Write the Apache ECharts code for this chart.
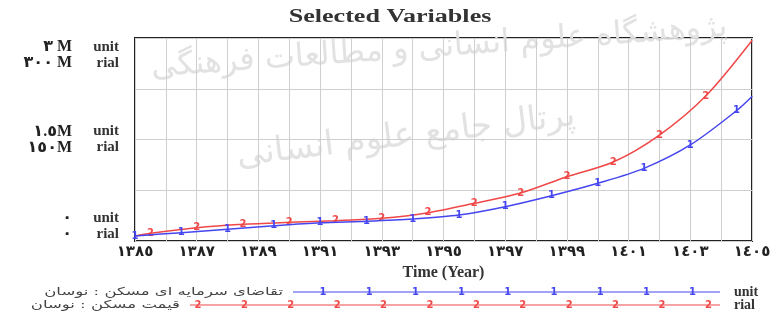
<!DOCTYPE html>
<html>
<head>
<meta charset="utf-8">
<script src="https://cdn.jsdelivr.net/npm/echarts@6/dist/echarts.min.js"></script>
<style>
  html, body { margin: 0; padding: 0; background: #fff; }
  #chart { width: 778px; height: 316px; }
</style>
</head>
<body>
<div id="chart"></div>
<script>
// years on the x axis (labels every 2 years, Persian digits)
const xLabels = ['١٣٨٥', '١٣٨٧', '١٣٨٩', '١٣٩١', '١٣٩٣', '١٣٩٥', '١٣٩٧', '١٣٩٩', '١٤٠١', '١٤٠٣', '١٤٠٥']
// y tick labels (left number + unit word)
const yUnitLabels = ['٠', '١.٥M', '٣ M']
const yRialLabels = ['٠', '١٥٠M', '٣٠٠ M']

// unit series (blue), marker "1"
const unitName = 'تقاضای سرمایه ای مسکن : نوسان'
const unitTimes = [1385, 1386.5, 1388, 1389.5, 1391, 1392.5, 1394, 1395.5, 1397, 1398.5, 1400, 1401.5, 1403, 1404.5, 1405]
const unitValues = [74000, 123000, 173000, 224000, 268000, 292000, 326000, 384000, 507000, 669000, 853000, 1074000, 1419000, 1926000, 2135000]

// rial series (red), marker "2"
const rialName = 'قیمت مسکن : نوسان'
const rialTimes = [1385, 1385.5, 1387, 1388.5, 1390, 1391.5, 1393, 1394.5, 1396, 1397.5, 1399, 1400.5, 1402, 1403.5, 1405]
const rialValues = [7400000, 11400000, 19700000, 24700000, 27600000, 30000000, 33500000, 41800000, 55700000, 70900000, 95000000, 116700000, 156600000, 214300000, 296300000]

const blue = '#4646f0'
const red = '#f04848'
const serif = '"Liberation Serif", "DejaVu Serif", "DejaVu Sans", serif'

function buildData(times, values, noMarkFirst) {
  let out = []
  for (let i = 0; i < times.length; i++) {
    let item = { value: [times[i], values[i]] }
    // last point never has a marker, first only for unit series
    if (i === times.length - 1 || (i === 0 && noMarkFirst)) {
      item.label = { show: false }
    }
    out.push(item)
  }
  return out
}

const chart = echarts.init(document.getElementById('chart'))

// the original picture is stretched sideways, so texts get scaleX
let graphics = [
  {
    type: 'text', x: 390, y: 17, scaleX: 1.45,
    style: { text: 'Selected Variables', font: 'bold 18px ' + serif, fill: '#333', align: 'center', verticalAlign: 'middle' }
  },
  // faint watermark of the source site
  {
    type: 'text', x: 150, y: 52, rotation: 0.07, z: 0, silent: true,
    style: { text: 'پژوهشگاه علوم انسانی و مطالعات فرهنگی', font: '32px "DejaVu Sans"', fill: '#e2e2e2' }
  },
  {
    type: 'text', x: 235, y: 140, rotation: 0.12, z: 0, silent: true,
    style: { text: 'پرتال جامع علوم انسانی', font: '34px "DejaVu Sans"', fill: '#e2e2e2' }
  },
  // legend drawn by hand like the original tool does (long line with numbered markers)
  {
    type: 'text', x: 283, y: 292, scaleX: 1.5,
    style: { text: unitName, font: '11px "DejaVu Sans"', fill: '#444', align: 'right', verticalAlign: 'middle' }
  },
  {
    type: 'line', shape: { x1: 293, y1: 292, x2: 720, y2: 292 },
    style: { stroke: blue, lineWidth: 1.2 }
  },
  {
    type: 'text', x: 734, y: 292,
    style: { text: 'unit', font: 'bold 14px ' + serif, fill: '#333', verticalAlign: 'middle' }
  },
  {
    type: 'text', x: 180, y: 305, scaleX: 1.5,
    style: { text: rialName, font: '11px "DejaVu Sans"', fill: '#444', align: 'right', verticalAlign: 'middle' }
  },
  {
    type: 'line', shape: { x1: 190, y1: 305, x2: 720, y2: 305 },
    style: { stroke: red, lineWidth: 1.2 }
  },
  {
    type: 'text', x: 734, y: 305,
    style: { text: 'rial', font: 'bold 14px ' + serif, fill: '#333', verticalAlign: 'middle' }
  }
]
for (let k = 0; k < 9; k++) {
  graphics.push({
    type: 'text', x: 323 + k * 46.2, y: 292,
    style: { text: '1', font: 'bold 10px "DejaVu Sans"', fill: blue, align: 'center', verticalAlign: 'middle' }
  })
}
for (let k = 0; k < 12; k++) {
  graphics.push({
    type: 'text', x: 198 + k * 46.4, y: 305,
    style: { text: '2', font: 'bold 10px "DejaVu Sans"', fill: red, align: 'center', verticalAlign: 'middle' }
  })
}

chart.setOption({
  animation: false,
  grid: {
    left: 135, right: 26, top: 38, bottom: 75,
    show: true,
    borderColor: '#222',
    borderWidth: 2
  },
  graphic: graphics,
  xAxis: {
    type: 'value',
    min: 1385,
    max: 1405,
    interval: 1,
    name: 'Time (Year)',
    nameLocation: 'middle',
    nameGap: 19,
    nameTextStyle: { fontFamily: serif, fontWeight: 'bold', fontSize: 16, color: '#333' },
    axisLine: { show: false },
    axisTick: { show: false },
    splitLine: { lineStyle: { color: '#cfcfcf', width: 1 } },
    axisLabel: {
      margin: 4,
      fontFamily: '"DejaVu Sans"',
      fontWeight: 'bold',
      fontSize: 15,
      color: '#222',
      formatter: function (v) {
        let off = Math.round(v - 1385)
        if (off % 2 !== 0) return ''
        return xLabels[off / 2]
      }
    }
  },
  yAxis: [
    {
      type: 'value',
      min: 0,
      max: 3000000,
      interval: 750000,
      axisLine: { show: false },
      axisTick: { show: false },
      splitLine: { lineStyle: { color: '#cfcfcf', width: 1 } },
      axisLabel: {
        margin: 16,
        formatter: function (v) {
          let idx = [0, 1500000, 3000000].indexOf(v)
          if (idx < 0) return ''
          let rows = '{n|' + yUnitLabels[idx] + '}{s| }{u|unit}\n{n|' + yRialLabels[idx] + '}{s| }{u|rial}'
          if (idx === 2) return '{top| }\n' + rows
          if (idx === 0) return rows + '\n{bot| }'
          return rows
        },
        rich: {
          n: { lineHeight: 16, fontFamily: serif, fontWeight: 'bold', fontSize: 16, color: '#222' },
          s: { width: 15, lineHeight: 16 },
          u: { width: 32, lineHeight: 16, fontFamily: serif, fontWeight: 'bold', fontSize: 15, color: '#333' },
          top: { lineHeight: 34, fontSize: 1 },
          bot: { lineHeight: 30, fontSize: 1 }
        }
      }
    },
    {
      type: 'value',
      min: 0,
      max: 300000000,
      show: false
    }
  ],
  series: [
    {
      name: unitName,
      type: 'line',
      yAxisIndex: 0,
      smooth: 0.3,
      symbol: 'circle',
      symbolSize: 1,
      lineStyle: { color: blue, width: 1.5 },
      itemStyle: { color: blue },
      label: {
        show: true, position: 'inside', formatter: '1',
        fontFamily: '"DejaVu Sans"', fontWeight: 'bold', fontSize: 10, color: blue
      },
      data: buildData(unitTimes, unitValues, false),
      z: 3
    },
    {
      name: rialName,
      type: 'line',
      yAxisIndex: 1,
      smooth: 0.3,
      symbol: 'circle',
      symbolSize: 1,
      lineStyle: { color: red, width: 1.5 },
      itemStyle: { color: red },
      label: {
        show: true, position: 'inside', formatter: '2',
        fontFamily: '"DejaVu Sans"', fontWeight: 'bold', fontSize: 10, color: red
      },
      data: buildData(rialTimes, rialValues, true),
      z: 2
    }
  ]
})
</script>
</body>
</html>
